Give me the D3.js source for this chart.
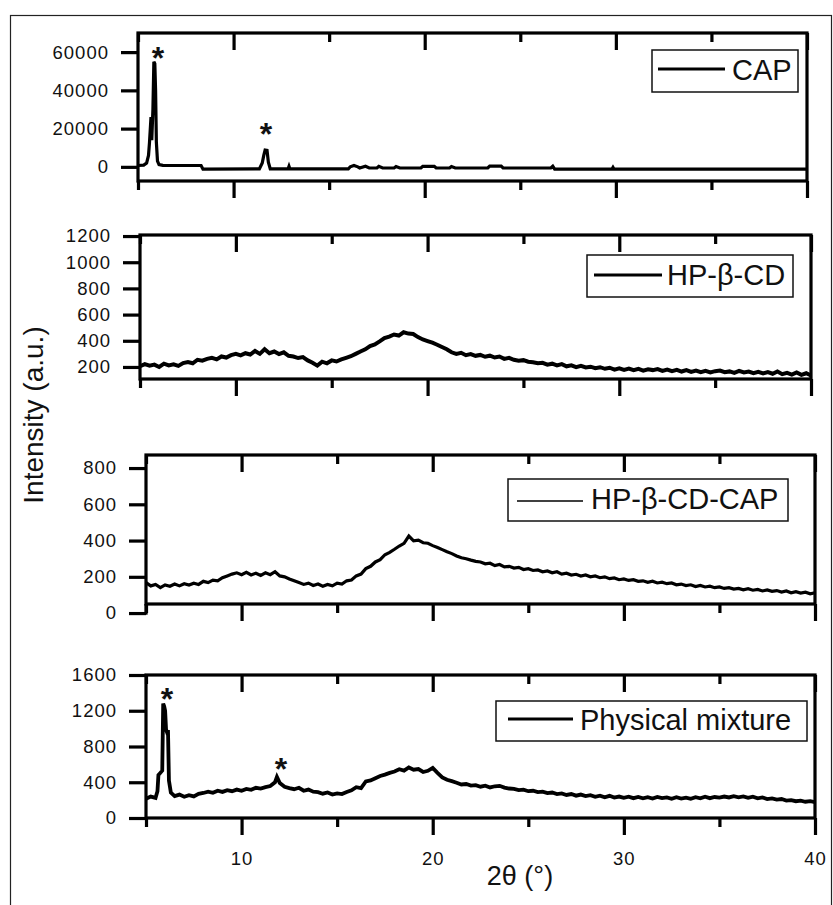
<!DOCTYPE html>
<html>
<head>
<meta charset="utf-8">
<script src="https://cdn.jsdelivr.net/npm/d3@7"></script>
<style>
  body { margin: 0; background: #fff; }
  svg { display: block; font-family: Arial, "Liberation Sans", sans-serif; }
</style>
</head>
<body>
<div id="my_dataviz"></div>
<script>
// 2theta ticks (shared by all four panels)
var majorTicks = [10, 20, 30, 40];
var minorTicks = [5, 15, 25, 35];

// y ticks of each panel
var capTicks = [0, 20000, 40000, 60000];
var hpTicks = [200, 400, 600, 800, 1000, 1200];
var complexTicks = [0, 200, 400, 600, 800];
var mixTicks = [0, 400, 800, 1200, 1600];

// legend labels
var labels = ["CAP", "HP-\u03b2-CD", "HP-\u03b2-CD-CAP", "Physical mixture"];

// CAP pattern [2theta, intensity]
var capData = [
  [5.0, 700], [5.3, 900], [5.45, 2000], [5.55, 6000], [5.6, 12600], [5.68, 26000], [5.72, 14000],
  [5.78, 30000], [5.83, 55000], [5.88, 54000], [5.92, 40000], [5.96, 13000], [6.02, 3000],
  [6.1, 1200], [6.3, 800], [7.0, 700], [8.3, 700], [8.4, -1200], [11.35, -1100], [11.5, 2000],
  [11.58, 6000], [11.65, 8800], [11.75, 8600], [11.82, 2500], [11.92, -1100],
  [12.85, -1100], [12.9, 300], [12.95, -1100], [16.0, -1100], [16.1, 0], [16.3, 700],
  [16.5, 0], [16.6, -600], [16.9, 300], [17.1, -600], [17.5, -600], [17.6, 300], [17.8, -600],
  [18.4, -600], [18.5, 200], [18.7, -600], [19.8, -600], [19.9, 300], [20.5, 300], [20.6, -600],
  [21.3, -600], [21.4, 200], [21.6, -600], [23.3, -600], [23.4, 400], [24.0, 400], [24.1, -600],
  [26.6, -600], [26.7, 300], [26.8, -1200], [29.8, -1200], [29.85, -300], [29.9, -1200], [40.0, -1200]
];

// HP-beta-CD pattern
var hpData = [
  [5.0, 205], [5.25, 222], [5.5, 210], [5.75, 218], [6.0, 200], [6.25, 225], [6.5, 212], [6.75, 220],
  [7.0, 208], [7.25, 230], [7.5, 238], [7.75, 228], [8.0, 255], [8.25, 248], [8.5, 262], [8.75, 270],
  [9.0, 258], [9.25, 280], [9.5, 272], [9.75, 290], [10.0, 300], [10.25, 288], [10.5, 305], [10.75, 295],
  [11.0, 322], [11.25, 300], [11.5, 335], [11.75, 305], [12.0, 318], [12.25, 298], [12.5, 312], [12.75, 285],
  [13.0, 280], [13.25, 268], [13.5, 275], [13.75, 250], [14.0, 232], [14.25, 210], [14.5, 240], [14.75, 228],
  [15.0, 250], [15.25, 242], [15.5, 258], [15.75, 270], [16.0, 282], [16.25, 300], [16.5, 318], [16.75, 335],
  [17.0, 360], [17.25, 372], [17.5, 395], [17.75, 420], [18.0, 432], [18.25, 448], [18.5, 440], [18.75, 465],
  [19.0, 455], [19.25, 452], [19.5, 428], [19.75, 410], [20.0, 398], [20.25, 385], [20.5, 370], [20.75, 352],
  [21.0, 335], [21.25, 312], [21.5, 300], [21.75, 308], [22.0, 290], [22.25, 298], [22.5, 285], [22.75, 292],
  [23.0, 278], [23.25, 286], [23.5, 272], [23.75, 280], [24.0, 262], [24.25, 270], [24.5, 255], [24.75, 248],
  [25.0, 252], [25.25, 240], [25.5, 236], [25.75, 228], [26.0, 232], [26.25, 218], [26.5, 225], [26.75, 212],
  [27.0, 222], [27.25, 205], [27.5, 212], [27.75, 198], [28.0, 208], [28.25, 196], [28.5, 202], [28.75, 190],
  [29.0, 198], [29.25, 186], [29.5, 194], [29.75, 180], [30.0, 190], [30.25, 178], [30.5, 188], [30.75, 175],
  [31.0, 185], [31.25, 172], [31.5, 182], [31.75, 176], [32.0, 184], [32.25, 170], [32.5, 180], [32.75, 168],
  [33.0, 178], [33.25, 165], [33.5, 176], [33.75, 162], [34.0, 172], [34.25, 160], [34.5, 170], [34.75, 158],
  [35.0, 168], [35.25, 172], [35.5, 160], [35.75, 166], [36.0, 155], [36.25, 170], [36.5, 158], [36.75, 165],
  [37.0, 152], [37.25, 162], [37.5, 150], [37.75, 160], [38.0, 148], [38.25, 165], [38.5, 145], [38.75, 155],
  [39.0, 142], [39.25, 158], [39.5, 140], [39.75, 152], [40.0, 135]
];

// HP-beta-CD-CAP complex pattern
var complexData = [
  [5.0, 168], [5.25, 150], [5.5, 158], [5.75, 140], [6.0, 155], [6.25, 148], [6.5, 160], [6.75, 150],
  [7.0, 162], [7.25, 155], [7.5, 165], [7.75, 158], [8.0, 175], [8.25, 168], [8.5, 182], [8.75, 178],
  [9.0, 195], [9.25, 205], [9.5, 215], [9.75, 222], [10.0, 212], [10.25, 225], [10.5, 210], [10.75, 220],
  [11.0, 208], [11.25, 222], [11.5, 212], [11.75, 228], [12.0, 205], [12.25, 200], [12.5, 188], [12.75, 178],
  [13.0, 168], [13.25, 158], [13.5, 165], [13.75, 152], [14.0, 160], [14.25, 148], [14.5, 158], [14.75, 150],
  [15.0, 165], [15.25, 160], [15.5, 178], [15.75, 182], [16.0, 205], [16.25, 215], [16.5, 245], [16.75, 258],
  [17.0, 282], [17.25, 295], [17.5, 322], [17.75, 335], [18.0, 352], [18.25, 370], [18.5, 385], [18.75, 425],
  [19.0, 398], [19.25, 402], [19.5, 388], [19.75, 385], [20.0, 372], [20.25, 362], [20.5, 350], [20.75, 338],
  [21.0, 328], [21.25, 315], [21.5, 305], [21.75, 300], [22.0, 292], [22.25, 285], [22.5, 282], [22.75, 272],
  [23.0, 275], [23.25, 262], [23.5, 268], [23.75, 255], [24.0, 258], [24.25, 248], [24.5, 252], [24.75, 240],
  [25.0, 245], [25.25, 235], [25.5, 238], [25.75, 228], [26.0, 232], [26.25, 222], [26.5, 228], [26.75, 215],
  [27.0, 220], [27.25, 210], [27.5, 214], [27.75, 204], [28.0, 210], [28.25, 200], [28.5, 205], [28.75, 195],
  [29.0, 200], [29.25, 190], [29.5, 194], [29.75, 184], [30.0, 188], [30.25, 180], [30.5, 184], [30.75, 175],
  [31.0, 178], [31.25, 170], [31.5, 176], [31.75, 166], [32.0, 170], [32.25, 162], [32.5, 166], [32.75, 156],
  [33.0, 160], [33.25, 152], [33.5, 156], [33.75, 146], [34.0, 152], [34.25, 144], [34.5, 148], [34.75, 140],
  [35.0, 144], [35.25, 136], [35.5, 140], [35.75, 132], [36.0, 136], [36.25, 128], [36.5, 134], [36.75, 126],
  [37.0, 130], [37.25, 122], [37.5, 128], [37.75, 120], [38.0, 124], [38.25, 116], [38.5, 122], [38.75, 112],
  [39.0, 118], [39.25, 110], [39.5, 115], [39.75, 106], [40.0, 112]
];

// physical mixture pattern
var mixData = [
  [5.0, 215], [5.25, 240], [5.5, 225], [5.6, 300], [5.65, 480], [5.75, 505], [5.85, 530], [5.9, 1280],
  [5.95, 1250], [6.0, 1200], [6.05, 990], [6.1, 960], [6.15, 985], [6.2, 420], [6.3, 285], [6.5, 245],
  [6.75, 262], [7.0, 238], [7.25, 255], [7.5, 242], [7.75, 270], [8.0, 280], [8.25, 295], [8.5, 282],
  [8.75, 305], [9.0, 292], [9.25, 312], [9.5, 300], [9.75, 318], [10.0, 305], [10.25, 325], [10.5, 315],
  [10.75, 338], [11.0, 330], [11.25, 345], [11.5, 358], [11.75, 400], [11.85, 460], [12.0, 392], [12.25, 350],
  [12.5, 335], [12.75, 322], [13.0, 338], [13.25, 305], [13.5, 318], [13.75, 295], [14.0, 290], [14.25, 272],
  [14.5, 285], [14.75, 262], [15.0, 275], [15.25, 268], [15.5, 292], [15.75, 310], [16.0, 345], [16.25, 335],
  [16.5, 410], [16.75, 420], [17.0, 445], [17.25, 470], [17.5, 485], [17.75, 505], [18.0, 520], [18.25, 545],
  [18.5, 530], [18.75, 565], [19.0, 540], [19.25, 548], [19.5, 515], [19.75, 528], [20.0, 560], [20.25, 505],
  [20.5, 455], [20.75, 428], [21.0, 412], [21.25, 395], [21.5, 375], [21.75, 380], [22.0, 362], [22.25, 368],
  [22.5, 350], [22.75, 362], [23.0, 342], [23.25, 355], [23.5, 360], [23.75, 340], [24.0, 330], [24.25, 325],
  [24.5, 312], [24.75, 318], [25.0, 300], [25.25, 305], [25.5, 290], [25.75, 295], [26.0, 278], [26.25, 285],
  [26.5, 268], [26.75, 275], [27.0, 258], [27.25, 268], [27.5, 250], [27.75, 262], [28.0, 245], [28.25, 255],
  [28.5, 238], [28.75, 250], [29.0, 232], [29.25, 248], [29.5, 228], [29.75, 240], [30.0, 225], [30.25, 238],
  [30.5, 222], [30.75, 235], [31.0, 220], [31.25, 232], [31.5, 218], [31.75, 235], [32.0, 222], [32.25, 230],
  [32.5, 215], [32.75, 232], [33.0, 218], [33.25, 228], [33.5, 215], [33.75, 232], [34.0, 220], [34.25, 238],
  [34.5, 222], [34.75, 235], [35.0, 228], [35.25, 240], [35.5, 230], [35.75, 245], [36.0, 232], [36.25, 242],
  [36.5, 225], [36.75, 238], [37.0, 220], [37.25, 230], [37.5, 212], [37.75, 220], [38.0, 205], [38.25, 212],
  [38.5, 195], [38.75, 200], [39.0, 188], [39.25, 195], [39.5, 182], [39.75, 188], [40.0, 178]
];

// asterisks marking CAP reflections
var capStars = [[6.05, 60000], [11.7, 20500]];
var mixStars = [[6.1, 1400], [12.06, 615]];

// page layout of each panel
var panels = [
  {data: capData, ticks: capTicks, stars: capStars, label: labels[0], yDomain: [-7400, 70000],
   left: 138, right: 807, top: 33, bottom: 181, lw: 3.2,
   legend: {x: 652, y: 50, w: 146, h: 42, ly: 69, l1: 658, l2: 725, tx: 732, ty: 80, lw: 3}},
  {data: hpData, ticks: hpTicks, stars: [], label: labels[1], yDomain: [108, 1208],
   left: 140, right: 811, top: 235, bottom: 379, lw: 4,
   legend: {x: 587, y: 255, w: 206, h: 42, ly: 275, l1: 594, l2: 662, tx: 667, ty: 285, lw: 3}},
  {data: complexData, ticks: complexTicks, stars: [], label: labels[2], yDomain: [50, 872],
   left: 146, right: 815, top: 455, bottom: 604, lw: 3.2, axisTo: 0,
   legend: {x: 508, y: 479, w: 280, h: 42, ly: 501, l1: 517, l2: 583, tx: 591, ty: 509, lw: 1.3}},
  {data: mixData, ticks: mixTicks, stars: mixStars, label: labels[3], yDomain: [0, 1600],
   left: 146, right: 815, top: 675, bottom: 818, lw: 3.8, xLabels: true,
   legend: {x: 496, y: 701, w: 311, h: 40, ly: 719, l1: 508, l2: 573, tx: 580, ty: 730, lw: 3}}
];

var axisWidth = 3.2;

var svg = d3.select("#my_dataviz")
  .append("svg")
  .attr("width", 833)
  .attr("height", 905);

// outer frame
svg.append("rect")
  .attr("x", 10.5)
  .attr("y", 15.5)
  .attr("width", 821)
  .attr("height", 900)
  .attr("fill", "none")
  .attr("stroke", "#222")
  .attr("stroke-width", 1.2);

panels.forEach(function(p) {
  var x = d3.scaleLinear().domain([5, 40]).range([p.left, p.right]);
  var y = d3.scaleLinear().domain(p.yDomain).range([p.bottom, p.top]);
  var g = svg.append("g");

  // the pattern
  g.append("path")
    .datum(p.data)
    .attr("fill", "none")
    .attr("stroke", "#000")
    .attr("stroke-width", p.lw)
    .attr("stroke-linejoin", "miter")
    .attr("d", d3.line()
      .x(function(d) { return x(d[0]); })
      .y(function(d) { return y(d[1]); }));

  // Add Y axis
  var yAxis = g.append("g")
    .attr("transform", "translate(" + p.left + ",0)")
    .call(d3.axisLeft(y).tickValues(p.ticks).tickSize(17).tickPadding(12).tickFormat(d3.format("d")));
  yAxis.select(".domain").remove();
  yAxis.selectAll("line").attr("stroke-width", axisWidth);
  yAxis.selectAll("text")
    .attr("font-family", "Arial, 'Liberation Sans', sans-serif")
    .attr("font-size", 18.5)
    .attr("letter-spacing", 1)
    .attr("fill", "#111");

  // bottom X axis, ticks outward
  var xBottom = g.append("g")
    .attr("transform", "translate(0," + p.bottom + ")")
    .call(d3.axisBottom(x).tickValues(majorTicks).tickSize(17).tickPadding(17)
      .tickFormat(p.xLabels ? d3.format("d") : ""));
  xBottom.select(".domain").remove();
  xBottom.selectAll("line").attr("stroke-width", axisWidth);
  xBottom.selectAll("text")
    .attr("font-family", "Arial, 'Liberation Sans', sans-serif")
    .attr("font-size", 18.5)
    .attr("letter-spacing", 1)
    .attr("fill", "#111");
  var xMinor = g.append("g")
    .attr("transform", "translate(0," + p.bottom + ")")
    .call(d3.axisBottom(x).tickValues(minorTicks).tickSize(9).tickFormat(""));
  xMinor.select(".domain").remove();
  xMinor.selectAll("line").attr("stroke-width", axisWidth);

  // top X axis, ticks inward
  var xTop = g.append("g")
    .attr("transform", "translate(0," + p.top + ")")
    .call(d3.axisTop(x).tickValues(majorTicks).tickSize(-17).tickFormat(""));
  xTop.select(".domain").remove();
  xTop.selectAll("line").attr("stroke-width", axisWidth);
  var xTopMinor = g.append("g")
    .attr("transform", "translate(0," + p.top + ")")
    .call(d3.axisTop(x).tickValues(minorTicks).tickSize(-9).tickFormat(""));
  xTopMinor.select(".domain").remove();
  xTopMinor.selectAll("line").attr("stroke-width", axisWidth);

  // frame of the panel
  g.append("rect")
    .attr("x", p.left)
    .attr("y", p.top)
    .attr("width", p.right - p.left)
    .attr("height", p.bottom - p.top)
    .attr("fill", "none")
    .attr("stroke", "#000")
    .attr("stroke-width", axisWidth);
  if (p.axisTo !== undefined) {
    g.append("line")
      .attr("x1", p.left).attr("x2", p.left)
      .attr("y1", p.bottom).attr("y2", y(p.axisTo) + 1.6)
      .attr("stroke", "#000")
      .attr("stroke-width", axisWidth);
  }

  // legend
  var L = p.legend;
  g.append("rect")
    .attr("x", L.x).attr("y", L.y)
    .attr("width", L.w).attr("height", L.h)
    .attr("fill", "#fff")
    .attr("stroke", "#111")
    .attr("stroke-width", 1.5);
  g.append("line")
    .attr("x1", L.l1).attr("x2", L.l2)
    .attr("y1", L.ly).attr("y2", L.ly)
    .attr("stroke", "#000")
    .attr("stroke-width", L.lw);
  g.append("text")
    .attr("x", L.tx).attr("y", L.ty)
    .attr("font-size", 29)
    .attr("fill", "#111")
    .text(p.label);

  // asterisks
  g.selectAll(".star")
    .data(p.stars)
    .enter()
    .append("text")
    .attr("class", "star")
    .attr("x", function(d) { return x(d[0]); })
    .attr("y", function(d) { return y(d[1]) + 17; })
    .attr("text-anchor", "middle")
    .attr("font-size", 32)
    .attr("font-weight", "bold")
    .attr("fill", "#111")
    .text("*");
});

// axis titles
svg.append("text")
  .attr("transform", "translate(43,415) rotate(-90)")
  .attr("text-anchor", "middle")
  .attr("font-size", 28)
  .attr("fill", "#111")
  .text("Intensity (a.u.)");

svg.append("text")
  .attr("x", 520)
  .attr("y", 885)
  .attr("text-anchor", "middle")
  .attr("font-size", 27)
  .attr("fill", "#111")
  .text("2\u03b8 (\u00b0)");
</script>
</body>
</html>
